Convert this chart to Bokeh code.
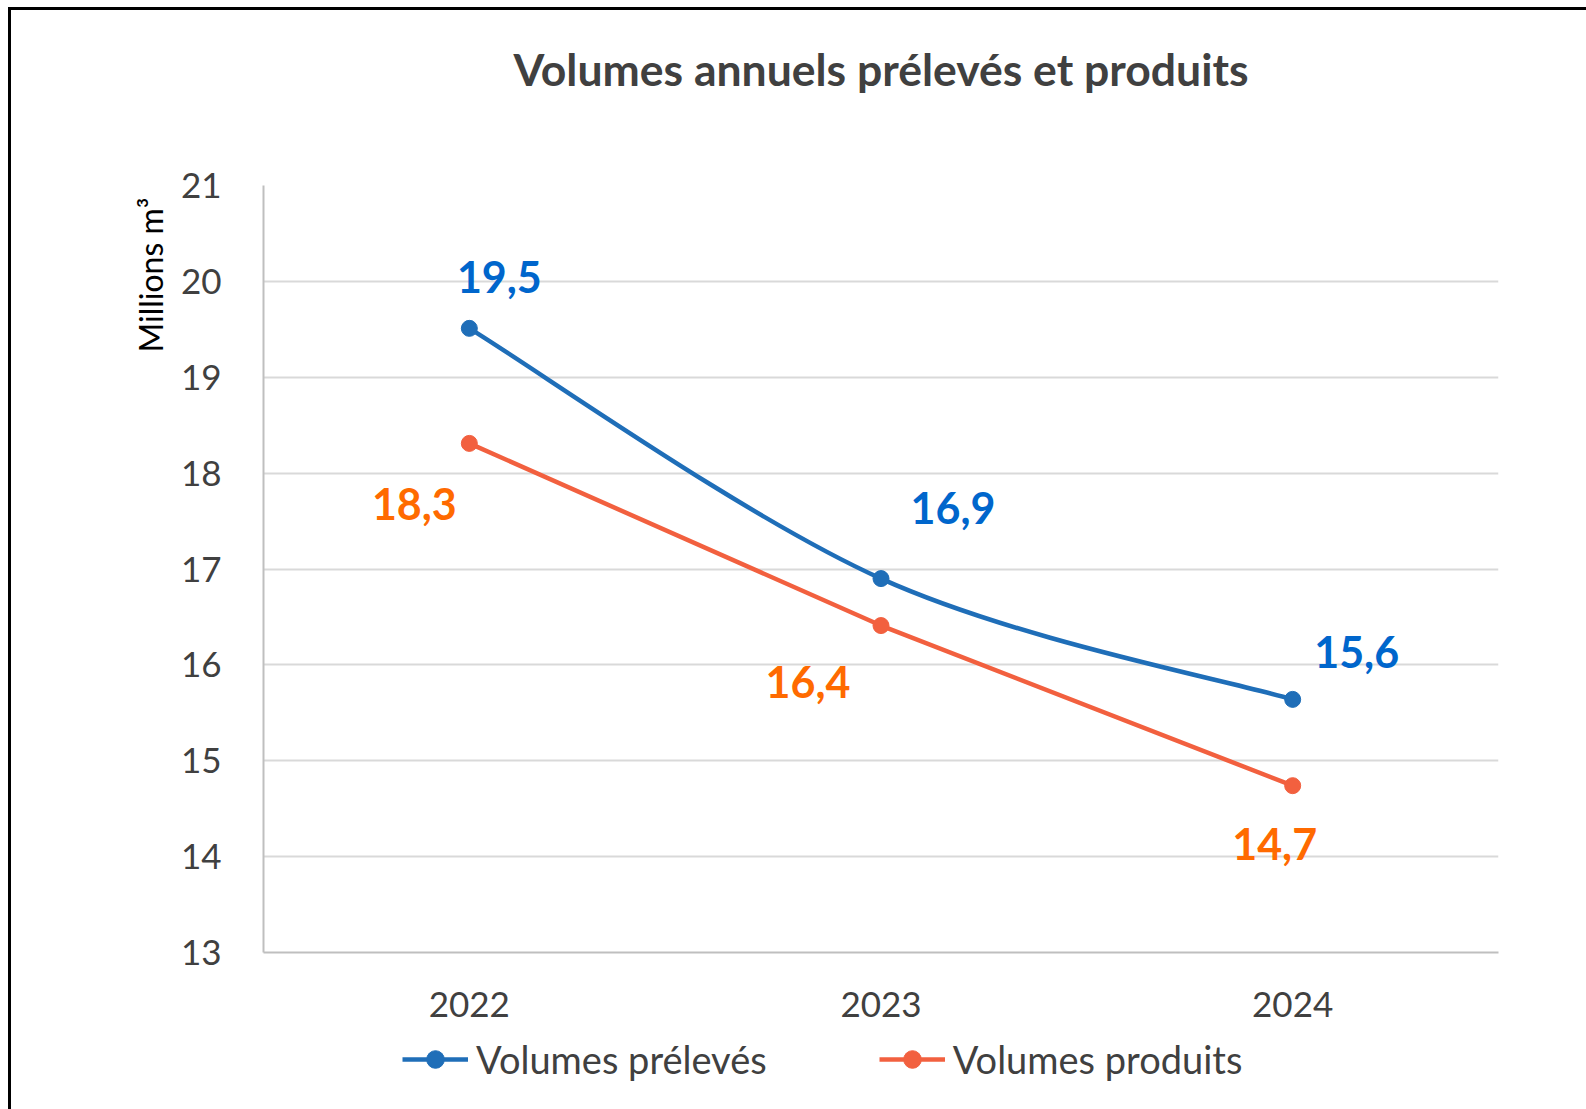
import math
from bokeh.plotting import figure
from bokeh.layouts import column
from bokeh.models import (ColumnDataSource, FixedTicker, Legend, LegendItem, Title, Label, Range1d)
from bokeh.core.properties import value
from bokeh.embed import file_html
from bokeh.resources import INLINE

# ---- data ----
years = ["2022", "2023", "2024"]
preleves = [19.51, 16.90, 15.64]     # Volumes prélevés (millions m3)
produits = [18.31, 16.41, 14.74]     # Volumes produits (millions m3)
y_ticks = [13, 14, 15, 16, 17, 18, 19, 20, 21]
series_names = ["Volumes prélevés", "Volumes produits"]
title_text = "Volumes annuels prélevés et produits"
y_label_text = "Millions m³"

# ---- styles / layout ----
FONT = "Lato"
BLUE_LINE = "#1F6EB8"
ORANGE_LINE = "#F2603F"
BLUE_TEXT = "#0066CC"
ORANGE_TEXT = "#FF6A00"
GREY_TEXT = "#404040"
blue_label_offsets = [(30, -51), (72, -71), (64, -47)]
orange_label_offsets = [(-55, 61), (-73, 56), (-18, 58)]

W = 1575
H_TITLE, H_CHART, H_LEG = 120, 900, 79
FRAME_L, FRAME_T, FRAME_W, FRAME_H = 252, 55, 1235, 767

xpos = [i + 0.5 for i in range(len(years))]


def strip(height):
    f = figure(width=W, height=height, output_backend="svg", toolbar_location=None,
               x_range=Range1d(0, 1), y_range=Range1d(-2, -1),
               x_axis_location=None, y_axis_location=None,
               min_border=0, min_border_left=0, min_border_right=0,
               min_border_top=0, min_border_bottom=0)
    f.outline_line_color = None
    f.grid.grid_line_color = None
    return f


# ---- title strip ----
tf = strip(H_TITLE)
tf.add_layout(Label(x=FRAME_W / 2, y=62, x_units="screen", y_units="screen", text=title_text,
                    text_align="center", text_baseline="middle", text_font=FONT,
                    text_font_size="44.5px", text_font_style="bold", text_color=GREY_TEXT))

# ---- main chart ----
p = figure(width=W, height=H_CHART, output_backend="svg", toolbar_location=None,
           x_range=Range1d(0, len(years)), y_range=Range1d(y_ticks[0], y_ticks[-1]),
           min_border_left=FRAME_L, min_border_top=FRAME_T,
           min_border_right=W - FRAME_L - FRAME_W,
           min_border_bottom=H_CHART - FRAME_T - FRAME_H)
p.outline_line_color = None
p.background_fill_color = "white"
p.border_fill_color = "white"

# axes
p.xaxis.ticker = FixedTicker(ticks=xpos)
p.xaxis.major_label_overrides = {x: y for x, y in zip(xpos, years)}
p.yaxis.ticker = FixedTicker(ticks=y_ticks)
for ax in (p.xaxis[0], p.yaxis[0]):
    ax.axis_line_color = "#BFBFBF"
    ax.axis_line_width = 2
    ax.major_tick_line_color = None
    ax.minor_tick_line_color = None
    ax.major_label_text_font = FONT
    ax.major_label_text_font_size = "35px"
    ax.major_label_text_color = GREY_TEXT
p.yaxis.major_label_standoff = 36
p.xaxis.major_label_standoff = 33
p.xgrid.grid_line_color = None
p.ygrid.ticker = FixedTicker(ticks=y_ticks)
p.ygrid.grid_line_color = "#D9D9D9"
p.ygrid.grid_line_width = 2

# y axis label (placed near the top of the axis)
p.add_layout(Title(text=y_label_text, align="right", offset=12, standoff=16,
                   text_font=FONT, text_font_size="32px", text_font_style="normal",
                   text_color="#000000"), "left")


def smooth_controls(xs, ys):
    """Bezier control points (Excel-like smoothing) derived from the data points."""
    n = len(xs)
    segs = dict(x0=[], y0=[], x1=[], y1=[], cx0=[], cy0=[], cx1=[], cy1=[])
    for i in range(n - 1):
        xm, ym = (xs[i - 1], ys[i - 1]) if i > 0 else (xs[i], ys[i])
        xp, yp = (xs[i + 2], ys[i + 2]) if i + 2 < n else (xs[i + 1], ys[i + 1])
        segs["x0"].append(xs[i]); segs["y0"].append(ys[i])
        segs["x1"].append(xs[i + 1]); segs["y1"].append(ys[i + 1])
        segs["cx0"].append(xs[i] + (xs[i + 1] - xm) / 6)
        segs["cy0"].append(ys[i] + (ys[i + 1] - ym) / 6)
        segs["cx1"].append(xs[i + 1] - (xp - xs[i]) / 6)
        segs["cy1"].append(ys[i + 1] - (yp - ys[i]) / 6)
    return segs


src_b = ColumnDataSource(dict(x=xpos, y=preleves,
                              label=[f"{v:.1f}".replace(".", ",") for v in preleves],
                              dx=[o[0] for o in blue_label_offsets],
                              dy=[o[1] for o in blue_label_offsets]))
src_o = ColumnDataSource(dict(x=xpos, y=produits,
                              label=[f"{v:.1f}".replace(".", ",") for v in produits],
                              dx=[o[0] for o in orange_label_offsets],
                              dy=[o[1] for o in orange_label_offsets]))

# blue smoothed line
bez = ColumnDataSource(smooth_controls(xpos, preleves))
p.bezier(x0="x0", y0="y0", x1="x1", y1="y1", cx0="cx0", cy0="cy0", cx1="cx1", cy1="cy1",
         source=bez, line_color=BLUE_LINE, line_width=4.5)
p.scatter("x", "y", source=src_b, size=16, fill_color=BLUE_LINE, line_color=BLUE_LINE)

# orange straight line
p.line("x", "y", source=src_o, line_color=ORANGE_LINE, line_width=4.5)
p.scatter("x", "y", source=src_o, size=16, fill_color=ORANGE_LINE, line_color=ORANGE_LINE)

# data labels
for src, col in ((src_b, BLUE_TEXT), (src_o, ORANGE_TEXT)):
    p.text("x", "y", text="label", source=src, x_offset="dx", y_offset="dy",
           text_font=value(FONT), text_font_size="43px", text_font_style="bold",
           text_color=col, text_align="center", text_baseline="middle")

# ---- legend strip below the chart (its series lie outside its own ranges) ----
lf = strip(H_LEG)
lb_line = lf.line("x", "y", source=src_b, line_color=BLUE_LINE, line_width=4.5)
lb_pts = lf.scatter("x", "y", source=src_b, size=16, fill_color=BLUE_LINE, line_color=BLUE_LINE)
lo_line = lf.line("x", "y", source=src_o, line_color=ORANGE_LINE, line_width=4.5)
lo_pts = lf.scatter("x", "y", source=src_o, size=16, fill_color=ORANGE_LINE, line_color=ORANGE_LINE)
legend = Legend(items=[LegendItem(label=series_names[0], renderers=[lb_line, lb_pts]),
                       LegendItem(label=series_names[1], renderers=[lo_line, lo_pts])],
                location=(139, 27), orientation="horizontal",
                glyph_width=66, glyph_height=44, label_height=44, label_standoff=8,
                spacing=112, padding=0, margin=0, border_line_color=None,
                background_fill_alpha=0,
                label_text_font=FONT, label_text_font_size="38px", label_text_color=GREY_TEXT)
lf.add_layout(legend, "center")

layout = column(tf, p, lf, spacing=0)
layout.styles = {"margin-left": "8px", "margin-top": "7px",
                 "border-top": "3px solid #000000", "border-left": "3px solid #000000"}

open("out.html", "w").write(file_html(layout, INLINE))
